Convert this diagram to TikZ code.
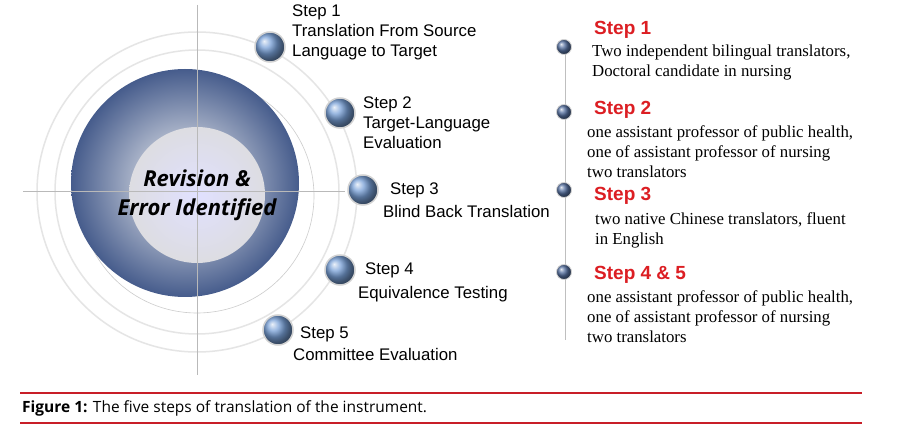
\documentclass[tikz,border=0pt]{standalone}
\usepackage{fontspec}
\setmainfont{Liberation Serif}
\setsansfont{Liberation Sans}
\newfontfamily\capfont{Open Sans}
\definecolor{diskdark}{RGB}{70,92,140}
\definecolor{ballc}{RGB}{120,160,215}
\definecolor{sballc}{RGB}{85,112,160}
\definecolor{redc}{RGB}{220,30,35}
\definecolor{linered}{RGB}{200,30,40}
\begin{document}
\begin{tikzpicture}[x=1pt,y=-1pt,
  bigball/.style={circle,minimum size=30pt,inner sep=0pt,draw=gray!35,line width=1.5pt,ball color=ballc},
  smallball/.style={circle,minimum size=15pt,inner sep=0pt,draw=gray!35,line width=0.8pt,ball color=sballc},
  lbl/.style={font=\sffamily\fontsize{16.8}{20}\selectfont,anchor=north west,align=left,inner sep=0pt},
  redh/.style={font=\sffamily\bfseries\fontsize{19}{20}\selectfont,text=redc,anchor=west,inner sep=0pt},
  desc/.style={font=\fontsize{16.8}{20}\selectfont,anchor=north west,align=left,inner sep=0pt}]
\useasboundingbox (0,0) rectangle (914,446);
\fill[white] (0,0) rectangle (914,446);
% rings
\draw[gray!20,line width=1.5pt] (197,192) circle (160);
\draw[gray!20,line width=1.5pt] (197,192) circle (142);
\draw[gray!40,line width=0.6pt] (197,196) circle (117);
\shade[inner color=gray!5,outer color=diskdark] (185,183) circle (114);
\shade[inner color=blue!12!white,outer color=blue!8!gray!25] (197,195) circle (68);
% crosshair
\draw[gray!55,line width=0.6pt] (197,5) -- (197,375);
\draw[gray!55,line width=0.6pt] (23,191) -- (345,191);
\node[font=\capfont\bfseries\itshape\fontsize{22}{29}\selectfont,align=center,text=black] (ctr) at (197,195) {Revision \&\\Error Identified};
% big balls
\node[bigball] (b1) at (270,47) {};
\node[bigball] (b2) at (340,113) {};
\node[bigball] (b3) at (363,190) {};
\node[bigball] (b4) at (340,270) {};
\node[bigball] (b5) at (278,330) {};
\node[lbl] (t1) at (292,5) {Step 1\\Translation From Source\\Language to Target};
\node[lbl] (t2) at (363,97) {Step 2\\Target-Language\\Evaluation};
\node[lbl] (t3a) at (390,183) {Step 3};
\node[lbl] (t3b) at (383,205) {Blind Back Translation};
\node[lbl] (t4a) at (365,263) {Step 4};
\node[lbl] (t4b) at (358,286) {Equivalence Testing};
\node[lbl] (t5a) at (300,327) {Step 5};
\node[lbl] (t5b) at (293,348) {Committee Evaluation};
% right timeline
\coordinate (ltop) at (565,45);
\coordinate (lbot) at (565,340);
\draw[gray!50,line width=1pt] (ltop) -- (lbot);
\node[smallball] (s1) at (564,47) {};
\node[smallball] (s2) at (564,112) {};
\node[smallball] (s3) at (564,190) {};
\node[smallball] (s4) at (564,272) {};
\node[redh] (h1) at (594,30) {Step 1};
\node[desc] (d1) at (592,45) {Two independent bilingual translators,\\Doctoral candidate in nursing};
\node[redh] (h2) at (594,110) {Step 2};
\node[desc] (d2) at (587,125) {one assistant professor of public health,\\one of assistant professor of nursing\\two translators};
\node[redh] (h3) at (594,196) {Step 3};
\node[desc] (d3) at (595,212) {two native Chinese translators, fluent\\in English};
\node[redh] (h4) at (594,275) {Step 4 \& 5};
\node[desc] (d4) at (587,290) {one assistant professor of public health,\\one of assistant professor of nursing\\two translators};
% caption
\draw[linered,line width=2pt] (20,393) -- (862,393);
\draw[linered,line width=2pt] (20,423) -- (862,423);
\node[font=\capfont\fontsize{15.5}{16}\selectfont,anchor=west,inner sep=0pt] (cap) at (22,408) {\textbf{Figure 1:} The five steps of translation of the instrument.};
\end{tikzpicture}
\end{document}
